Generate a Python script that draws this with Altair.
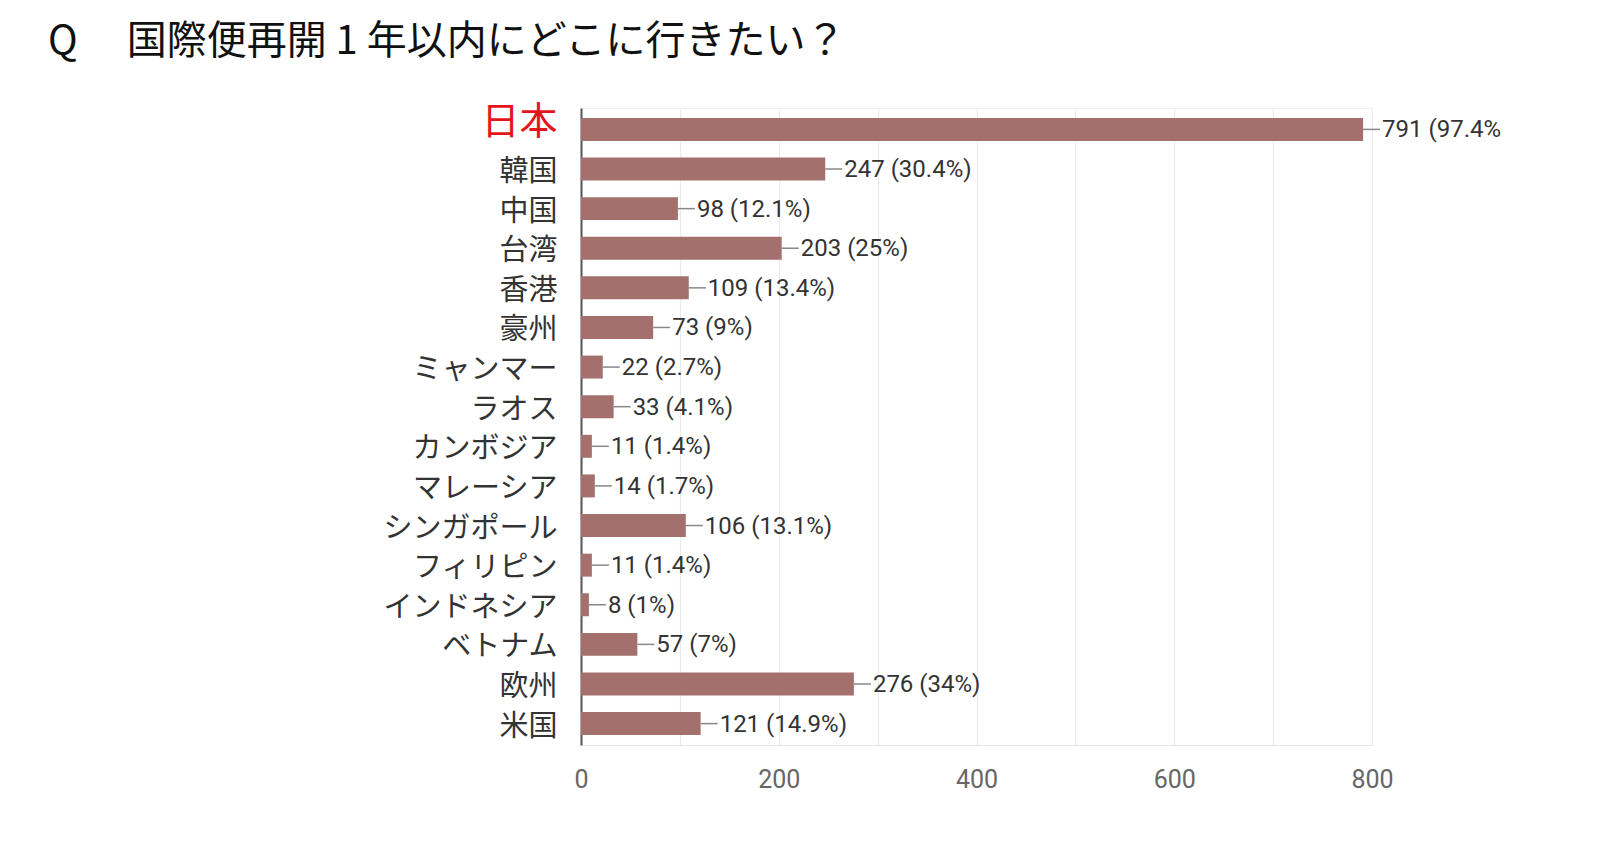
import altair as alt
import pandas as pd

countries = ["日本", "韓国", "中国", "台湾", "香港", "豪州", "ミャンマー", "ラオス", "カンボジア",
             "マレーシア", "シンガポール", "フィリピン", "インドネシア", "ベトナム", "欧州", "米国"]
counts = [791, 247, 98, 203, 109, 73, 22, 33, 11, 14, 106, 11, 8, 57, 276, 121]
labels = ["791 (97.4%", "247 (30.4%)", "98 (12.1%)", "203 (25%)", "109 (13.4%)", "73 (9%)",
          "22 (2.7%)", "33 (4.1%)", "11 (1.4%)", "14 (1.7%)", "106 (13.1%)", "11 (1.4%)",
          "8 (1%)", "57 (7%)", "276 (34%)", "121 (14.9%)"]
x_ticks = [0, 100, 200, 300, 400, 500, 600, 700, 800]

df = pd.DataFrame({"country": countries, "count": counts, "label": labels})

JP = "Noto Sans CJK JP"
NUM = "Roboto"

y_enc = alt.Y("country:N", sort=countries, title=None,
              scale=alt.Scale(paddingInner=0.42, paddingOuter=0.25),
              axis=alt.Axis(
                  labelFont=JP,
                  labelFontSize=alt.expr("datum.value == '日本' ? 38 : 29"),
                  labelColor=alt.expr("datum.value == '日本' ? '#e8141c' : '#333333'"),
                  labelOffset=alt.expr("datum.value == '日本' ? -6 : 3"),
                  labelPadding=24, ticks=False, domainColor="#555555", domainWidth=2,
                  grid=False, labelLimit=400))
x_enc = alt.X("count:Q", title=None,
              scale=alt.Scale(domain=[0, 800], nice=False),
              axis=alt.Axis(values=x_ticks,
                            labelExpr="datum.value % 200 == 0 ? datum.label : ''",
                            labelFont=NUM, labelFontSize=25, labelColor="#666666",
                            labelFlush=False,
                            labelPadding=22, ticks=False, domainColor="#e6e6e6",
                            gridColor="#ebebeb", gridWidth=1.2))

bars = alt.Chart(df).mark_bar(color="#a4706d").encode(x=x_enc, y=y_enc)

leader = alt.Chart(df).mark_rule(color="#888888", strokeWidth=1.5, x2Offset=17).encode(
    x="count:Q", x2="count:Q", y=alt.Y("country:N", sort=countries))

text = alt.Chart(df).mark_text(align="left", baseline="middle", dx=19, dy=1,
                               font=NUM, fontSize=24, color="#333333").encode(
    x="count:Q", y=alt.Y("country:N", sort=countries), text="label:N")

chart = alt.layer(bars, leader, text).properties(
    width=791, height=637,
    autosize=alt.AutoSizeParams(type="none"),
    padding={"left": 573, "top": 100, "right": 212, "bottom": 80},
    title=alt.TitleParams("Q　 国際便再開 1 年以内にどこに行きたい？", anchor="start", frame="group",
                          dx=-533, offset=42, font=JP, fontSize=40, fontWeight="normal",
                          color="#111111"),
).configure_view(stroke="#eeeeee")

chart.save("out.html", embed_options={"renderer": "svg", "actions": False})
